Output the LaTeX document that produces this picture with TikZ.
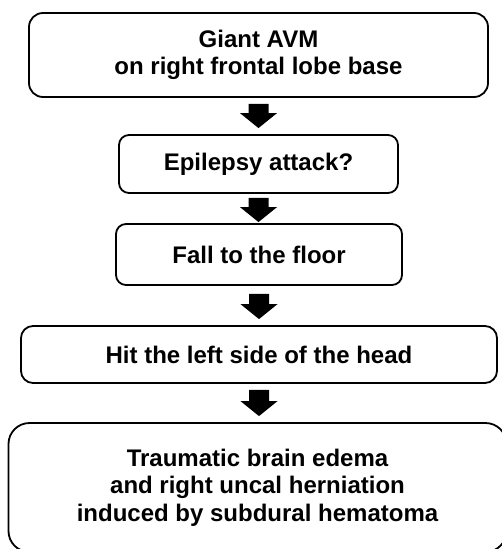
\documentclass[tikz,border=0pt]{standalone}
\usepackage{fontspec}
\setmainfont{Liberation Sans}
\usetikzlibrary{calc}
\newcommand\flowarrow[4]{%
  \fill let \p1=($(#1.south)+(0,#2)$), \p2=($(#3.north)-(0,#4)$) in
    (\x1-10pt,\y1) -- (\x1+10pt,\y1) -- (\x1+10pt,\y2+15pt) -- (\x1+18.5pt,\y2+15pt)
    -- (\x1,\y2) -- (\x1-18.5pt,\y2+15pt) -- (\x1-10pt,\y2+15pt) -- cycle;}
\begin{document}
\begin{tikzpicture}[x=1pt,y=-1pt,
  box/.style={draw, line width=1.8pt, rounded corners=#1, align=center,
    font=\bfseries\fontsize{24}{27.5}\selectfont, inner sep=0pt},
  box/.default=11pt]
\useasboundingbox (0,0) rectangle (501,549);
\node[box=14pt, minimum width=459pt, minimum height=84pt] (b1) at (258.5,55)
  {Giant AVM\\on right frontal lobe base};
\node[box=10pt, minimum width=279pt, minimum height=58pt] (b2) at (258.5,164)
  {Epilepsy attack?};
\node[box=10pt, minimum width=286pt, minimum height=61pt] (b3) at (259,254.5)
  {Fall to the floor};
\node[box=12pt, minimum width=476pt, minimum height=57pt] (b4) at (259,354.5)
  {Hit the left side of the head};
\node[box=21pt, minimum width=498pt, minimum height=129pt] (b5) at (257.5,487.5)
  {Traumatic brain edema\\and right uncal herniation\\induced by subdural hematoma};
\flowarrow{b1}{6}{b2}{6}
\flowarrow{b2}{4}{b3}{1}
\flowarrow{b3}{8}{b4}{6}
\flowarrow{b4}{6}{b5}{6}
\end{tikzpicture}
\end{document}
